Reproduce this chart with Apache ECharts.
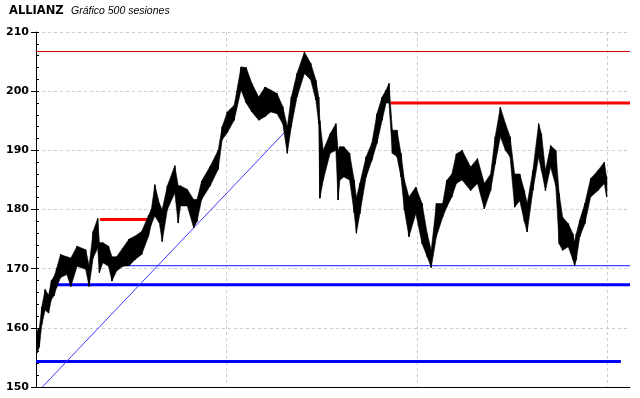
<!DOCTYPE html>
<html><head><meta charset="utf-8">
<script src="https://cdn.jsdelivr.net/npm/echarts@6/dist/echarts.min.js"></script>
<style>html,body{margin:0;padding:0;background:#fff}#c{width:640px;height:398px}</style>
</head><body><div id="c"></div>
<script>
// Price envelope: session range and low/high of each stretch
const segFrom = [0,2,4,6,10,12,15,17,19,24,30,31,41,46,47,53,55,56,61,66,67,74,78,85,88,97,100,102,106,110,111,119,124,125,128,137,139,143,147,158,161,165,170,177,182,186,192,198,203,208,214,218,222,225,232,238,243,247,248,249,254,261,264,265,267,272,277,280,281,286,292,296,301,305,308,310,314,318,321,324,329,336,340,345,347,354,358,361,367,369,377,384,389,396,400,404,409,413,417,421,426,429,431,439,441,444,448,453,457,459,463,469,471,472,474,478,483,488,496,499];
const segTo   = [2,4,6,10,12,15,17,19,24,30,31,41,46,47,53,55,56,61,66,67,74,78,85,88,97,100,102,106,110,111,119,124,125,128,137,139,143,147,158,161,165,170,177,182,186,192,198,203,208,214,218,222,225,232,238,243,247,248,249,254,261,264,265,267,272,277,280,281,286,292,296,301,305,308,310,314,318,321,324,329,336,340,345,347,354,358,361,367,369,377,384,389,396,400,404,409,413,417,421,426,429,431,439,441,444,448,453,457,459,463,469,471,472,474,478,483,488,496,499,500];
const segLow  = [155.8,156.8,160.5,163,162.5,164.8,165.5,166.8,168.5,169,167,170.4,169.9,167,171.8,173.5,169.3,171,170.4,167.9,169.6,170.4,170.5,171.5,172.4,175.5,177.5,178.9,177.7,174.6,180,182.8,177.7,180.6,180.6,176.9,178,181.7,184,186.8,191.8,193,195.1,200.2,198,196.5,195.1,195.7,196.5,196.2,194.5,189.5,194,199,203,201.9,198.5,194.5,181.9,185,189.5,190,181.6,185,185.5,185,179.5,176,179.3,185.5,188.3,191.2,195.1,198,198,189.5,188.9,185.5,179.9,175.4,179.3,174.2,172,170.2,175.4,178.7,180.4,182.1,184.4,185,183.2,184.4,180.1,183.2,187.7,192.3,190,188.9,180.4,181.5,178,176.2,183.2,188.9,186.6,183.2,187.2,184,174.2,173.1,173.7,171.5,170.5,171.5,175.4,177.6,182.1,183.2,184.4,182.1];
const segHigh = [159.5,160,163.5,166.5,165.5,168,168.7,170,172.4,172,171.8,173.8,173.2,170.5,176.3,178.5,174.4,174.4,173.8,172,172,173.5,175,175.5,176.3,179,180,184.2,181,180,184,187.4,184,184,183.4,181.7,181.7,184.8,187.3,190,194,196.5,197.6,204.1,204,201.3,199,200.7,200.2,199.6,197.4,194,199,203,206.6,204.7,201.9,199,195,190,192.8,194.5,190,190.6,190.6,189.5,185,182,184.4,188.9,191.2,196.2,199,200.2,201.3,193.4,193.4,189.5,185,182.1,183.8,181,175.9,173.1,181,181,184.9,186,189.4,190,187.2,188.6,184.4,186,192.3,197.3,194.5,192.3,186,186,183.2,181,186.6,194.5,192.8,186.6,190.8,190,182.7,178.7,177.6,175.9,174.5,175.9,178.2,181,185.2,186.6,188,185.5];

// Horizontal support / resistance levels
const levelValue = [206.7, 198.0, 178.3, 170.5, 167.27, 154.3];
const levelFrom  = [0, 310.5, 55.9, 80, 17.2, 0];
const levelTo    = [520, 520, 101.8, 520, 520, 512];
// Trend line (session, price)
const trendStart = [5.5, 150];
const trendEnd   = [220.4, 193.6];
// Axis ticks
const yTickValues = [150, 160, 170, 180, 190, 200, 210];
const xGridSessions = [0, 500/3, 1000/3, 500];

const levelStyles = [
  {color:'#d00000', width:1},
  {color:'#ff0000', width:3},
  {color:'#ff0000', width:3},
  {color:'#1010ff', width:1},
  {color:'#0000ff', width:3},
  {color:'#0000ff', width:3}
];

const priceData = segFrom.map((f, i) => [(f + segTo[i]) / 2, segLow[i], segHigh[i]]);

const series = [];
levelValue.forEach((v, k) => {
  series.push({
    type:'line', xAxisIndex:0, yAxisIndex:0, silent:true, symbol:'none', z:2,
    data:[[levelFrom[k], v],[levelTo[k], v]],
    lineStyle:{color:levelStyles[k].color, width:levelStyles[k].width}
  });
});
series.push({
  type:'line', xAxisIndex:0, yAxisIndex:0, silent:true, symbol:'none', z:2,
  data:[trendStart, trendEnd],
  lineStyle:{color:'#3a3aff', width:1}
});
series.push({
  type:'custom', xAxisIndex:0, yAxisIndex:0, silent:true, z:3, clip:true,
  data: priceData,
  dimensions:['mid','low','high'],
  encode:{x:0, y:[1,2]},
  renderItem: function(params, api){
    const i = params.dataIndex;
    const children = [];
    const m = api.value(0);
    const hi = api.coord([m, api.value(2)]);
    const lo = api.coord([m, api.value(1)]);
    children.push({type:'line', shape:{x1:hi[0], y1:hi[1], x2:lo[0], y2:lo[1]}, style:{stroke:'#000', lineWidth:1.2}});
    if (i < priceData.length - 1) {
      const n = priceData[i+1];
      const hi2 = api.coord([n[0], n[2]]);
      const lo2 = api.coord([n[0], n[1]]);
      children.push({type:'polygon', shape:{points:[hi, hi2, lo2, lo]}, style:{fill:'#000', stroke:'#000', lineWidth:0.6}});
    }
    return {type:'group', children};
  }
});

const chart = echarts.init(document.getElementById('c'), null, {renderer:'canvas'});
chart.setOption({
  animation:false,
  backgroundColor:'#fff',
  title:[
    {text:'ALLIANZ', left:9, top:5, padding:0,
     textStyle:{fontFamily:'DejaVu Sans', fontWeight:'bold', fontSize:11.5, color:'#000'}},
    {text:'Gráfico 500 sesiones', left:71, top:6, padding:0,
     textStyle:{fontFamily:'Liberation Sans', fontStyle:'italic', fontWeight:'normal', fontSize:10.5, color:'#000'}}
  ],
  grid:{left:36, right:10, top:32, bottom:11, containLabel:false},
  xAxis:[{
    type:'value', min:0, max:520, interval:xGridSessions[1]-xGridSessions[0],
    axisLine:{show:true, onZero:false, lineStyle:{color:'#000', width:1}},
    axisTick:{show:false}, axisLabel:{show:false},
    splitLine:{show:true, showMinLine:false, showMaxLine:false,
      lineStyle:{color:'#d2c8d2', type:[3,3], width:1}}
  }],
  yAxis:[{
    type:'value', min:yTickValues[0], max:yTickValues[yTickValues.length-1], interval:10,
    axisLine:{show:true, onZero:false, lineStyle:{color:'#000', width:1}},
    axisTick:{show:true, inside:true, length:3, lineStyle:{color:'#000'}},
    minorTick:{show:true, splitNumber:5, length:3, lineStyle:{color:'#000'}},
    axisLabel:{show:false},
    splitLine:{show:true, showMinLine:false, lineStyle:{color:'#d2c8d2', type:[3,3], width:1}}
  },{
    type:'value', position:'left', min:yTickValues[0], max:yTickValues[yTickValues.length-1], interval:10,
    axisLine:{show:false},
    axisTick:{show:true, inside:false, length:5, lineStyle:{color:'#000'}},
    axisLabel:{show:true, margin:7, color:'#000', fontFamily:'DejaVu Sans', fontWeight:'bold', fontSize:11},
    splitLine:{show:false}
  }],
  series: series
});
</script>
</body></html>
